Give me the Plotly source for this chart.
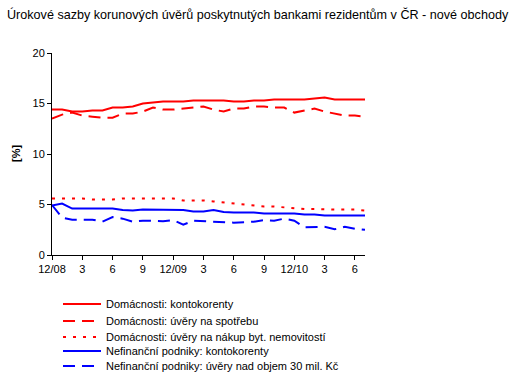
import plotly.graph_objects as go

months = list(range(32))  # 12/2008 .. 7/2011
tick_positions = [0, 3, 6, 9, 12, 15, 18, 21, 24, 27, 30]
tick_labels = ["12/08", "3", "6", "9", "12/09", "3", "6", "9", "12/10", "3", "6"]

dom_kontokorenty = [14.4, 14.4, 14.2, 14.2, 14.3, 14.3, 14.6, 14.6, 14.7, 15.0, 15.1, 15.2,
                    15.2, 15.2, 15.3, 15.3, 15.3, 15.3, 15.2, 15.2, 15.3, 15.3, 15.4, 15.4,
                    15.4, 15.4, 15.5, 15.6, 15.4, 15.4, 15.4, 15.4]
dom_spotreba = [13.5, 13.9, 14.1, 13.8, 13.7, 13.6, 13.6, 14.0, 14.0, 14.2, 14.6, 14.4,
                14.4, 14.5, 14.6, 14.7, 14.4, 14.2, 14.5, 14.5, 14.7, 14.7, 14.6, 14.6,
                14.1, 14.3, 14.5, 14.2, 14.0, 13.8, 13.8, 13.7]
dom_nemovitosti = [5.6, 5.6, 5.6, 5.6, 5.5, 5.5, 5.5, 5.6, 5.6, 5.6, 5.6, 5.6,
                   5.6, 5.4, 5.4, 5.4, 5.3, 5.2, 5.1, 5.0, 4.9, 4.8, 4.8, 4.7,
                   4.6, 4.55, 4.55, 4.5, 4.5, 4.5, 4.5, 4.4]
nfp_kontokorenty = [4.9, 5.1, 4.6, 4.6, 4.6, 4.6, 4.6, 4.45, 4.4, 4.5, 4.5, 4.5,
                    4.5, 4.45, 4.3, 4.3, 4.45, 4.25, 4.2, 4.2, 4.2, 4.1, 4.1, 4.1,
                    4.1, 4.0, 4.0, 3.9, 3.9, 3.9, 3.9, 3.9]
nfp_nad30 = [4.95, 3.7, 3.5, 3.5, 3.5, 3.3, 3.75, 3.6, 3.3, 3.4, 3.4, 3.35,
             3.45, 3.0, 3.4, 3.35, 3.3, 3.3, 3.2, 3.25, 3.3, 3.45, 3.4, 3.6,
             3.4, 2.75, 2.8, 2.8, 2.55, 2.8, 2.6, 2.5]

series = [
    ("Domácnosti: kontokorenty", dom_kontokorenty, "#FF0000", "solid"),
    ("Domácnosti: úvěry na spotřebu", dom_spotreba, "#FF0000", "12px,7px"),
    ("Domácnosti: úvěry na nákup byt. nemovitostí", dom_nemovitosti, "#FF0000", "3px,7px"),
    ("Nefinanční podniky: kontokorenty", nfp_kontokorenty, "#0000FF", "solid"),
    ("Nefinanční podniky: úvěry nad objem 30 mil. Kč", nfp_nad30, "#0000FF", "12px,7px"),
]

W, H = 531, 387
L, R, T, B = 52, 166, 53, 132
PW, PH = W - L - R, H - T - B
legend_rows_px = [304, 321, 337, 351, 366]
legend_names = ["legend", "legend2", "legend3", "legend4", "legend5"]

fig = go.Figure()
for (name, vals, color, dash), lg in zip(series, legend_names):
    fig.add_trace(go.Scatter(x=months, y=vals, mode="lines", name=name, legend=lg,
                             line=dict(color=color, width=2, dash=dash)))

legend_layout = {}
for lg, ypx in zip(legend_names, legend_rows_px):
    legend_layout[lg] = dict(xref="container", yref="container",
                             x=58 / W, y=1 - ypx / H,
                             xanchor="left", yanchor="middle",
                             itemwidth=38, font=dict(size=11),
                             bgcolor="rgba(0,0,0,0)", borderwidth=0)

fig.update_layout(
    width=W, height=H,
    margin=dict(l=L, r=R, t=T, b=B, autoexpand=False),
    paper_bgcolor="white", plot_bgcolor="white",
    font=dict(family="Liberation Sans, Arial, sans-serif", size=11, color="black"),
    title=dict(text="Úrokové sazby korunových úvěrů poskytnutých bankami rezidentům v ČR - nové obchody",
               x=7 / W, xref="container", xanchor="left",
               y=1 - 15 / H, yref="container", yanchor="middle",
               font=dict(size=12.6, color="black")),
    showlegend=True,
    xaxis=dict(range=[0, 31], tickvals=tick_positions, ticktext=tick_labels,
               showgrid=False, zeroline=False, showline=True, linecolor="black", linewidth=1,
               ticks="outside", ticklen=4, tickcolor="black", automargin=False),
    yaxis=dict(range=[0, 20], tickvals=[0, 5, 10, 15, 20],
               showgrid=False, zeroline=False, showline=True, linecolor="black", linewidth=1,
               ticks="outside", ticklen=4, tickcolor="black", automargin=False),
    annotations=[dict(text="<b>[%]</b>", xref="paper", yref="paper",
                      x=(16 - L) / PW, y=(H - B - 154) / PH,
                      xanchor="center", yanchor="middle",
                      textangle=-90, showarrow=False, font=dict(size=11))],
    **legend_layout,
)

fig.write_html("out.html", config={"displayModeBar": False},
               post_script="document.body.style.margin='0';document.body.style.overflow='hidden';")
